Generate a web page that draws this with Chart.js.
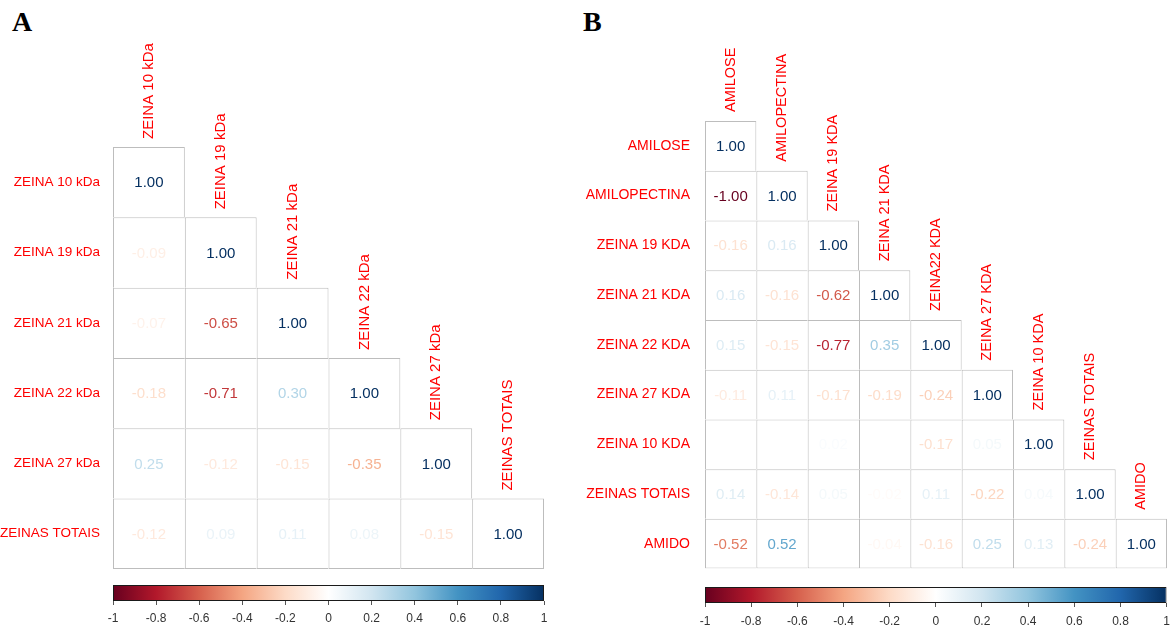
<!DOCTYPE html>
<html>
<head>
<meta charset="utf-8">
<script src="https://cdn.jsdelivr.net/npm/chart.js@4.4.1/dist/chart.umd.min.js"></script>
<style>
  html, body { margin: 0; padding: 0; background: #fff; width: 1171px; height: 628px; overflow: hidden; }
  .box { position: absolute; }
  .tag { position: absolute; font: bold 28px "Liberation Serif", "Times New Roman", serif; line-height: 1; color: #000; }
</style>
</head>
<body>
<div class="tag" style="left:12px;top:8px">A</div>
<div class="tag" style="left:583px;top:8px">B</div>

<div class="box" style="left:0;top:0;width:560px;height:590px"><canvas id="matA"></canvas></div>
<div class="box" style="left:570px;top:0;width:601px;height:592px"><canvas id="matB"></canvas></div>
<div class="box" style="left:93px;top:585px;width:461px;height:44px"><canvas id="barA"></canvas></div>
<div class="box" style="left:685px;top:587px;width:492px;height:44px"><canvas id="barB"></canvas></div>

<script>
/* ===============================
   DATA
================================ */
const varsA = ["ZEINA 10 kDa", "ZEINA 19 kDa", "ZEINA 21 kDa", "ZEINA 22 kDa", "ZEINA 27 kDa", "ZEINAS TOTAIS"];
// lower triangle, row by row
const corrA = [
  [1.00],
  [-0.09, 1.00],
  [-0.07, -0.65, 1.00],
  [-0.18, -0.71, 0.30, 1.00],
  [0.25, -0.12, -0.15, -0.35, 1.00],
  [-0.12, 0.09, 0.11, 0.08, -0.15, 1.00]
];

const rowsB = ["AMILOSE", "AMILOPECTINA", "ZEINA 19 KDA", "ZEINA 21 KDA", "ZEINA 22 KDA",
               "ZEINA 27 KDA", "ZEINA 10 KDA", "ZEINAS TOTAIS", "AMIDO"];
const colsB = ["AMILOSE", "AMILOPECTINA", "ZEINA 19 KDA", "ZEINA 21 KDA", "ZEINA22 KDA",
               "ZEINA 27 KDA", "ZEINA 10 KDA", "ZEINAS TOTAIS", "AMIDO"];
const corrB = [
  [1.00],
  [-1.00, 1.00],
  [-0.16, 0.16, 1.00],
  [0.16, -0.16, -0.62, 1.00],
  [0.15, -0.15, -0.77, 0.35, 1.00],
  [-0.11, 0.11, -0.17, -0.19, -0.24, 1.00],
  [0.00, 0.00, 0.02, 0.00, -0.17, 0.05, 1.00],
  [0.14, -0.14, 0.05, -0.02, 0.11, -0.22, 0.04, 1.00],
  [-0.52, 0.52, 0.00, -0.04, -0.16, 0.25, 0.13, -0.24, 1.00]
];

const barTicks = [-1, -0.8, -0.6, -0.4, -0.2, 0, 0.2, 0.4, 0.6, 0.8, 1];

/* ===============================
   COLOURS (RdBu)
================================ */
const rdbu = ["#67001F", "#B2182B", "#D6604D", "#F4A582", "#FDDBC7", "#FFFFFF",
              "#D1E5F0", "#92C5DE", "#4393C3", "#2166AC", "#053061"];
const FONT = '"Liberation Sans", Arial, sans-serif';
const GRID = "#bdbdbd";

function hex(h) {
  return [1, 3, 5].map(k => parseInt(h.slice(k, k + 2), 16));
}

function corrColor(v) {
  const t = (Math.max(-1, Math.min(1, v)) + 1) / 2 * (rdbu.length - 1);
  const i = Math.min(Math.floor(t), rdbu.length - 2);
  const f = t - i;
  const a = hex(rdbu[i]), b = hex(rdbu[i + 1]);
  const c = a.map((x, k) => Math.round(x + (b[k] - x) * f));
  return `rgb(${c[0]},${c[1]},${c[2]})`;
}

/* ===============================
   CORRELATION MATRIX
================================ */
function makeMatrix(id, rows, cols, values, o) {
  const n = rows.length;

  const datasets = rows.map((r, i) => ({
    label: r,
    data: cols.map((c, j) => (j <= i ? [i - 0.5, i + 0.5] : null)),
    backgroundColor: "#fff",
    borderColor: GRID,
    borderWidth: ctx => ({
      top: 1,
      left: 1,
      right: ctx.dataIndex === i ? 1 : 0,
      bottom: i === n - 1 ? 1 : 0
    }),
    borderSkipped: false,
    inflateAmount: 0,
    grouped: false,
    barPercentage: 1,
    categoryPercentage: 1
  }));

  const cellText = {
    id: "cellText",
    afterDatasetsDraw(chart) {
      const { ctx, scales: { x, y } } = chart;
      ctx.save();
      ctx.font = `15px ${FONT}`;
      ctx.textAlign = "center";
      ctx.textBaseline = "middle";
      values.forEach((row, i) => {
        row.forEach((v, j) => {
          ctx.fillStyle = corrColor(v);
          ctx.fillText(v.toFixed(2), x.getPixelForValue(j), y.getPixelForValue(i) + 1);
        });
      });

      // column names, rotated, above the diagonal cells
      ctx.font = `${o.colSize}px ${FONT}`;
      ctx.fillStyle = "red";
      ctx.textAlign = "left";
      cols.forEach((c, j) => {
        ctx.save();
        ctx.translate(x.getPixelForValue(j), y.getPixelForValue(j - 0.5) - o.gap);
        ctx.rotate(-Math.PI / 2);
        ctx.fillText(c, 0, 0);
        ctx.restore();
      });
      ctx.restore();
    }
  };

  new Chart(document.getElementById(id), {
    type: "bar",
    data: { labels: cols, datasets },
    plugins: [cellText],
    options: {
      responsive: true,
      maintainAspectRatio: false,
      animation: false,
      events: [],
      layout: { padding: { left: 0, top: o.top, right: o.right, bottom: o.bottom } },
      plugins: { legend: { display: false }, tooltip: { enabled: false } },
      scales: {
        x: { type: "category", display: false, offset: true },
        y: {
          type: "linear",
          reverse: true,
          min: -0.5,
          max: n - 0.5,
          afterBuildTicks: ax => { ax.ticks = rows.map((r, i) => ({ value: i })); },
          afterFit: ax => { ax.width = o.yWidth; },
          grid: { display: false, drawTicks: false },
          border: { display: false },
          ticks: {
            color: "red",
            font: { family: FONT, size: o.rowSize },
            padding: o.pad,
            autoSkip: false,
            callback: v => rows[v]
          }
        }
      }
    }
  });
}

/* ===============================
   COLOUR BAR
================================ */
function makeColorBar(id, pad) {
  new Chart(document.getElementById(id), {
    type: "bar",
    data: {
      labels: [""],
      datasets: [{
        data: [[-1, 1]],
        backgroundColor: c => {
          const xs = c.chart.scales.x;
          if (!xs || !c.chart.chartArea) return "#fff";
          const g = c.chart.ctx.createLinearGradient(xs.getPixelForValue(-1), 0, xs.getPixelForValue(1), 0);
          rdbu.forEach((col, k) => g.addColorStop(k / (rdbu.length - 1), col));
          return g;
        },
        borderColor: "#1a1a1a",
        borderWidth: 1,
        borderSkipped: false,
        inflateAmount: 0,
        barPercentage: 1,
        categoryPercentage: 1
      }]
    },
    options: {
      indexAxis: "y",
      responsive: true,
      maintainAspectRatio: false,
      animation: false,
      events: [],
      layout: { padding: { left: 20, right: 10, top: 0, bottom: 0 } },
      plugins: { legend: { display: false }, tooltip: { enabled: false } },
      scales: {
        y: { display: false },
        x: {
          type: "linear",
          min: -1,
          max: 1,
          afterBuildTicks: ax => { ax.ticks = barTicks.map(v => ({ value: v })); },
          afterFit: ax => { ax.height = 28; },
          grid: { drawOnChartArea: false, tickLength: 4, color: "#555" },
          border: { display: false },
          ticks: {
            color: "#333",
            padding: pad,
            maxRotation: 0,
            autoSkip: false,
            font: { family: FONT, size: 12 },
            callback: v => String(Math.round(v * 10) / 10)
          }
        }
      }
    }
  });
}

makeMatrix("matA", varsA, varsA, corrA, {
  top: 147, right: 16, bottom: 11, yWidth: 113, pad: 13, rowSize: 13.5, colSize: 15, gap: 8
});
makeMatrix("matB", rowsB, colsB, corrB, {
  top: 121, right: 4, bottom: 11, yWidth: 135, pad: 15, rowSize: 14, colSize: 14.5, gap: 9
});
makeColorBar("barA", 6);
makeColorBar("barB", 7);
</script>
</body>
</html>
